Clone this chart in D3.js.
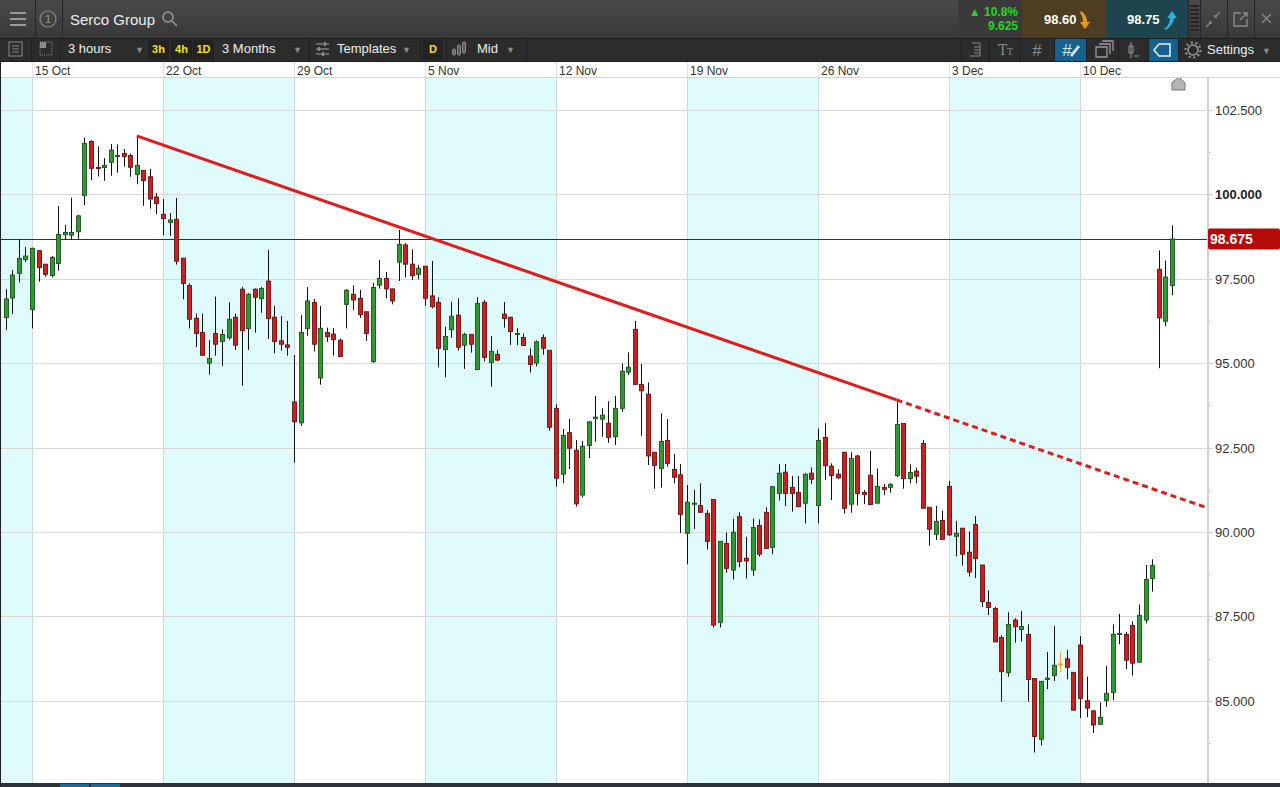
<!DOCTYPE html>
<html>
<head>
<meta charset="utf-8">
<script src="https://cdn.jsdelivr.net/npm/d3@7"></script>
<style>
  body { margin: 0; background: #fff; overflow: hidden; }
  svg { display: block; font-family: "Liberation Sans", Arial, sans-serif; }
</style>
</head>
<body>
<div id="chart"></div>
<script>
// Serco Group, velas de 3 horas (4 por dia), primera vela = viernes 12 Oct
let opens = [
  96.35, 96.93, 97.66, 98.07,
  96.59, 98.33, 97.93, 97.59, 97.95, 98.80, 98.79, 98.89, 99.97, 101.57,
  100.80, 100.79, 100.95, 101.12, 101.21, 101.15, 100.59, 100.71, 100.52, 99.92,
  99.41, 99.17, 99.26, 98.11, 97.30, 96.33, 95.91, 95.00, 95.88, 95.64,
  95.75, 96.36, 97.19, 96.02, 97.19, 96.91, 97.43, 96.36, 95.66, 95.54,
  93.85, 93.23, 96.02, 96.80, 94.56, 95.91, 95.86, 95.68, 96.74, 97.04,
  96.92, 96.52, 95.04, 97.31, 97.51, 97.20, 97.99, 98.50, 97.93, 97.63,
  97.87, 96.99, 96.80, 95.40, 95.99, 96.42, 95.53, 95.85, 94.81, 96.80,
  95.02, 95.26, 96.45, 96.36, 95.85, 95.76, 95.21, 95.00, 95.76, 95.38,
  93.66, 91.71, 92.94, 92.42, 91.09, 92.56, 93.36, 93.34, 93.22, 92.82,
  93.66, 94.73, 96.00, 94.37, 94.08, 92.36, 91.88, 92.71, 91.85, 91.69,
  89.96, 90.82, 90.78, 90.55, 90.96, 87.32, 89.66, 88.87, 90.45, 89.22,
  88.87, 90.19, 90.58, 89.54, 91.14, 91.77, 91.32, 91.17, 90.85, 91.74,
  90.78, 92.80, 91.95, 91.71, 92.36, 90.82, 92.25, 91.17, 91.68, 90.85,
  91.32, 91.32, 91.67, 93.21, 91.58, 91.80, 92.62, 90.73, 89.93, 90.34,
  91.35, 89.87, 90.11, 89.40, 90.22, 89.02, 87.91, 87.73, 86.87, 85.83,
  87.39, 87.11, 86.96, 85.66, 83.86, 85.63, 85.75, 86.09, 86.24, 85.84,
  86.65, 85.00, 84.70, 84.30, 85.00, 85.25, 86.96, 86.96, 87.23, 86.14,
  87.39, 88.62, 97.78, 96.24, 97.30
]
let highs = [
  97.19, 97.76, 98.67, 98.44,
  98.42, 98.33, 97.93, 98.17, 99.65, 99.09, 99.90, 99.40, 101.68, 101.60,
  101.42, 101.07, 101.49, 101.48, 101.34, 101.21, 101.73, 100.71, 100.75, 100.04,
  99.86, 99.44, 99.89, 98.11, 97.36, 96.47, 96.47, 95.68, 96.97, 96.00,
  96.80, 96.47, 97.26, 97.07, 97.21, 97.26, 98.35, 96.69, 96.39, 96.25,
  95.24, 96.42, 97.25, 96.90, 96.69, 96.05, 96.04, 95.73, 97.19, 97.30,
  97.17, 96.52, 97.38, 98.05, 97.70, 97.20, 98.94, 98.55, 98.37, 97.91,
  97.87, 98.02, 96.95, 96.08, 96.82, 96.92, 95.90, 95.85, 96.95, 96.87,
  95.80, 95.39, 96.81, 96.36, 96.03, 95.88, 95.44, 95.67, 95.85, 95.38,
  93.79, 93.05, 93.34, 92.72, 92.69, 93.27, 94.03, 93.66, 93.87, 94.03,
  94.99, 95.32, 96.25, 94.98, 94.43, 92.36, 93.51, 93.34, 92.31, 92.01,
  91.39, 91.24, 91.44, 90.65, 90.96, 89.72, 89.98, 90.38, 90.58, 89.86,
  90.40, 90.37, 90.73, 91.36, 92.01, 92.01, 91.66, 91.66, 91.74, 91.91,
  93.06, 93.22, 92.03, 91.85, 92.36, 92.36, 92.28, 91.24, 92.40, 91.88,
  91.42, 91.44, 93.91, 93.21, 92.00, 91.90, 92.72, 90.73, 90.77, 90.63,
  91.51, 90.33, 90.11, 90.01, 90.47, 89.02, 88.27, 87.78, 86.94, 87.62,
  87.44, 87.66, 87.26, 85.66, 85.59, 86.44, 87.21, 86.43, 86.50, 85.84,
  86.91, 85.71, 84.70, 84.95, 86.03, 87.26, 87.57, 87.04, 87.35, 87.85,
  89.02, 89.19, 98.34, 98.04, 99.08
]
let lows = [
  95.98, 96.45, 97.39, 97.99,
  96.03, 97.41, 97.56, 97.54, 97.74, 98.65, 98.65, 98.66, 99.68, 100.42,
  100.53, 100.40, 100.55, 100.64, 100.82, 100.52, 100.30, 99.66, 99.58, 99.41,
  98.79, 98.77, 97.92, 96.89, 96.03, 95.48, 95.23, 94.66, 95.22, 94.92,
  95.69, 95.39, 94.33, 95.39, 95.90, 96.49, 95.71, 95.29, 95.37, 95.22,
  92.05, 93.14, 95.81, 95.34, 94.36, 95.63, 95.22, 95.19, 96.03, 96.57,
  96.34, 95.66, 95.00, 97.21, 96.92, 96.74, 97.43, 97.54, 97.46, 97.48,
  96.70, 96.62, 94.87, 94.58, 95.75, 95.37, 94.83, 95.31, 94.81, 95.05,
  94.30, 95.05, 96.05, 95.54, 95.53, 95.52, 94.72, 94.90, 95.25, 93.00,
  91.34, 91.44, 91.86, 90.75, 91.02, 92.18, 92.67, 92.82, 92.64, 92.57,
  93.56, 94.65, 94.37, 92.85, 91.98, 91.28, 91.31, 91.93, 91.44, 89.96,
  89.04, 90.08, 90.58, 89.48, 87.17, 87.17, 88.79, 88.59, 88.95, 88.62,
  88.70, 89.27, 89.51, 89.34, 90.93, 90.77, 90.60, 90.73, 90.25, 91.42,
  90.25, 91.54, 90.94, 91.57, 90.54, 90.57, 90.78, 90.82, 90.79, 90.85,
  91.09, 91.16, 91.62, 91.28, 91.44, 91.44, 90.70, 89.59, 89.76, 89.78,
  89.88, 89.27, 89.00, 88.68, 88.63, 87.78, 87.54, 86.74, 84.97, 85.71,
  86.72, 86.75, 84.97, 83.47, 83.67, 85.34, 85.58, 85.84, 85.63, 84.70,
  84.48, 84.51, 84.04, 84.28, 84.82, 85.02, 86.67, 85.93, 85.74, 86.14,
  87.29, 88.23, 94.85, 96.09, 97.01
]
let closes = [
  96.90, 97.61, 98.10, 98.17,
  98.40, 97.83, 97.63, 98.13, 98.81, 98.87, 98.87, 99.36, 101.51, 100.77,
  100.76, 100.86, 101.31, 101.15, 101.12, 100.80, 100.86, 100.41, 99.86, 99.73,
  99.28, 99.24, 98.02, 97.36, 96.30, 95.88, 95.23, 95.14, 95.56, 95.85,
  96.30, 95.53, 95.96, 97.04, 96.95, 97.21, 96.32, 95.64, 95.56, 95.47,
  93.26, 95.91, 96.84, 95.56, 96.03, 95.78, 95.70, 95.19, 97.16, 96.87,
  96.44, 95.88, 97.24, 97.51, 97.20, 96.84, 98.52, 97.93, 97.59, 97.81,
  96.92, 96.67, 95.44, 95.79, 96.39, 95.47, 95.85, 95.56, 96.77, 95.17,
  95.35, 95.09, 96.32, 95.93, 95.88, 95.52, 94.96, 95.63, 95.44, 93.10,
  91.59, 92.86, 92.48, 90.83, 92.54, 93.26, 93.40, 93.46, 92.80, 93.66,
  94.76, 94.88, 94.37, 94.18, 92.25, 91.97, 92.68, 92.03, 91.62, 90.52,
  90.88, 90.85, 90.58, 89.72, 87.24, 89.72, 88.92, 89.99, 89.12, 89.14,
  90.13, 89.34, 89.51, 91.34, 91.74, 91.14, 91.14, 90.75, 91.71, 91.56,
  92.71, 91.96, 91.67, 91.60, 90.70, 92.18, 91.14, 91.11, 90.81, 91.35,
  91.26, 91.41, 93.18, 91.58, 91.76, 91.65, 90.70, 90.08, 90.31, 89.78,
  89.91, 89.96, 89.34, 88.81, 89.21, 87.94, 87.76, 86.74, 85.86, 87.26,
  87.19, 87.20, 85.63, 83.94, 85.57, 85.67, 86.05, 86.09, 85.99, 84.72,
  85.07, 84.78, 84.28, 84.51, 85.22, 86.96, 86.99, 86.20, 86.11, 87.53,
  88.59, 89.01, 96.34, 97.55, 98.675
]

// Semanas (la vela 4 es el primer bloque del 15 Oct, 20 velas por semana)
let weekLabels = ['15 Oct', '22 Oct', '29 Oct', '5 Nov', '12 Nov', '19 Nov', '26 Nov', '3 Dec', '10 Dec']
let candlesPerWeek = 20
let firstWeekCandle = 4
let yTicks = [85, 87.5, 90, 92.5, 95, 97.5, 100, 102.5]
let lastPrice = 98.675
// linea de tendencia: [vela, precio]
let trendFrom = [20, 101.73]
let trendTo = [136, 93.91]
let trendEnd = 183

// Dimensiones
let W = 1280, H = 787
let plotTop = 77, plotBottom = 783, plotRight = 1207

let svg = d3.select('#chart').append('svg')
    .attr('width', W)
    .attr('height', H)

let x = d3.scaleLinear()
    .domain([firstWeekCandle, firstWeekCandle + 8 * candlesPerWeek])
    .range([32, 1080])

let y = d3.scaleLinear()
    .domain([85, 100])
    .range([700.7, 194.3])

let candles = opens.map((o, i) => ({ i: i, o: o, h: highs[i], l: lows[i], c: closes[i] }))

// ---------- Barra superior ----------
let defs = svg.append('defs')
let grad = defs.append('linearGradient').attr('id', 'topbar').attr('x1', 0).attr('x2', 0).attr('y1', 0).attr('y2', 1)
grad.append('stop').attr('offset', '0%').attr('stop-color', '#4a4a4a')
grad.append('stop').attr('offset', '100%').attr('stop-color', '#383838')

svg.append('rect').attr('x', 0).attr('y', 0).attr('width', W).attr('height', 38).attr('fill', 'url(#topbar)')
svg.append('rect').attr('x', 0).attr('y', 38).attr('width', W).attr('height', 24).attr('fill', '#2c2c2c')
svg.append('line').attr('x1', 0).attr('x2', W).attr('y1', 38.5).attr('y2', 38.5).attr('stroke', '#1c1c1c')
svg.append('line').attr('x1', 0).attr('x2', W).attr('y1', 61.5).attr('y2', 61.5).attr('stroke', '#1c1c1c')

let topBar = svg.append('g')
// hamburguesa
;[13, 19, 25].forEach(yy => {
    topBar.append('rect').attr('x', 10).attr('y', yy - 1).attr('width', 16).attr('height', 2).attr('fill', '#9a9a9a')
})
;[35, 62].forEach(xx => {
    topBar.append('line').attr('x1', xx + 0.5).attr('x2', xx + 0.5).attr('y1', 0).attr('y2', 38).attr('stroke', '#262626')
})
topBar.append('circle').attr('cx', 48).attr('cy', 19).attr('r', 8).attr('fill', 'none').attr('stroke', '#8a8a8a').attr('stroke-width', 1.2)
topBar.append('text').text('1').attr('x', 48).attr('y', 23).attr('text-anchor', 'middle').attr('font-size', 11).attr('fill', '#9a9a9a')
topBar.append('text').text('Serco Group').attr('x', 70).attr('y', 25).attr('font-size', 15).attr('fill', '#eeeeee')
topBar.append('circle').attr('cx', 168).attr('cy', 17).attr('r', 5).attr('fill', 'none').attr('stroke', '#9a9a9a').attr('stroke-width', 1.5)
topBar.append('line').attr('x1', 172).attr('y1', 21).attr('x2', 177).attr('y2', 26).attr('stroke', '#9a9a9a').attr('stroke-width', 1.5)

// bloque de precios
topBar.append('rect').attr('x', 958).attr('y', 0).attr('width', 64).attr('height', 38).attr('fill', '#3a3a3a')
topBar.append('text').text('▲ 10.8%').attr('x', 1018).attr('y', 16).attr('text-anchor', 'end')
    .attr('font-size', 12).attr('font-weight', 'bold').attr('fill', '#2ad22a')
topBar.append('text').text('9.625').attr('x', 1018).attr('y', 30).attr('text-anchor', 'end')
    .attr('font-size', 12).attr('font-weight', 'bold').attr('fill', '#2ad22a')
topBar.append('rect').attr('x', 1022).attr('y', 0).attr('width', 84).attr('height', 38).attr('fill', '#4f3d21')
topBar.append('text').text('98.60').attr('x', 1044).attr('y', 24).attr('font-size', 13).attr('font-weight', 'bold').attr('fill', '#fff')
topBar.append('path').attr('d', 'M1081,11 Q1087,15 1087,22 L1090,22 L1085,29 L1080,22 L1083,22 Q1083,16 1080,13 Z').attr('fill', '#e39a1f')
topBar.append('rect').attr('x', 1106).attr('y', 0).attr('width', 82).attr('height', 38).attr('fill', '#1e454d')
topBar.append('text').text('98.75').attr('x', 1127).attr('y', 24).attr('font-size', 13).attr('font-weight', 'bold').attr('fill', '#fff')
topBar.append('path').attr('d', 'M1164,29 Q1170,25 1170,18 L1167,18 L1172,11 L1177,18 L1174,18 Q1174,24 1166,30 Z').attr('fill', '#29b2e0')
// grip
for (let k = 0; k < 7; k++) {
    topBar.append('rect').attr('x', 1190).attr('y', 5 + k * 4).attr('width', 9).attr('height', 2).attr('fill', '#262626')
}
;[1188, 1200, 1227, 1254].forEach(xx => {
    topBar.append('line').attr('x1', xx + 0.5).attr('x2', xx + 0.5).attr('y1', 0).attr('y2', 38).attr('stroke', '#262626')
})
topBar.append('path').attr('d', 'M1206,27 L1211,22 M1209,22 L1211,22 L1211,24 M1220,12 L1215,17 M1215,15 L1215,17 L1217,17')
    .attr('stroke', '#8a8a8a').attr('stroke-width', 1.4).attr('fill', 'none')
topBar.append('path').attr('d', 'M1241,13 L1234,13 L1234,26 L1247,26 L1247,19 M1240,20 L1247,13 M1243,13 L1247,13 L1247,17')
    .attr('stroke', '#8a8a8a').attr('stroke-width', 1.4).attr('fill', 'none')
topBar.append('path').attr('d', 'M1262,14 L1271,23 M1271,14 L1262,23').attr('stroke', '#8a8a8a').attr('stroke-width', 1.4)

// ---------- Segunda barra ----------
let bar = svg.append('g')
bar.append('rect').attr('x', 9).attr('y', 42).attr('width', 13).attr('height', 14).attr('fill', 'none').attr('stroke', '#8a8a8a')
;[46, 49, 52].forEach(yy => bar.append('line').attr('x1', 12).attr('x2', 19).attr('y1', yy).attr('y2', yy).attr('stroke', '#8a8a8a'))
bar.append('rect').attr('x', 40).attr('y', 42).attr('width', 12).attr('height', 13).attr('fill', 'none').attr('stroke', '#8a8a8a').attr('stroke-dasharray', '1,1')
bar.append('rect').attr('x', 40).attr('y', 42).attr('width', 6).attr('height', 6).attr('fill', '#8a8a8a')
;[31, 60, 309, 420, 446, 526].forEach(xx => {
    bar.append('line').attr('x1', xx + 0.5).attr('x2', xx + 0.5).attr('y1', 39).attr('y2', 61).attr('stroke', '#1e1e1e')
})
bar.append('text').text('3 hours').attr('x', 68).attr('y', 53).attr('font-size', 13).attr('fill', '#eee')
bar.append('text').text('▼').attr('x', 135).attr('y', 53).attr('font-size', 9).attr('fill', '#8a8a8a')
;[['3h', 148], ['4h', 171], ['1D', 193]].forEach(d => {
    bar.append('rect').attr('x', d[1]).attr('y', 40).attr('width', 21).attr('height', 20).attr('fill', '#222')
    bar.append('text').text(d[0]).attr('x', d[1] + 10.5).attr('y', 53).attr('text-anchor', 'middle')
        .attr('font-size', 11).attr('font-weight', 'bold').attr('fill', '#f3e21a')
})
bar.append('text').text('3 Months').attr('x', 222).attr('y', 53).attr('font-size', 13).attr('fill', '#eee')
bar.append('text').text('▼').attr('x', 293).attr('y', 53).attr('font-size', 9).attr('fill', '#8a8a8a')
;[44, 49, 54].forEach((yy, k) => {
    bar.append('line').attr('x1', 316).attr('x2', 329).attr('y1', yy).attr('y2', yy).attr('stroke', '#8a8a8a').attr('stroke-width', 1.3)
    bar.append('rect').attr('x', [324, 318, 322][k]).attr('y', yy - 2).attr('width', 2).attr('height', 4).attr('fill', '#8a8a8a')
})
bar.append('text').text('Templates').attr('x', 337).attr('y', 53).attr('font-size', 13).attr('fill', '#eee')
bar.append('text').text('▼').attr('x', 402).attr('y', 53).attr('font-size', 9).attr('fill', '#8a8a8a')
bar.append('rect').attr('x', 423).attr('y', 40).attr('width', 20).attr('height', 20).attr('fill', '#222')
bar.append('text').text('D').attr('x', 433).attr('y', 53).attr('text-anchor', 'middle').attr('font-size', 11).attr('font-weight', 'bold').attr('fill', '#f3e21a')
;[[454, 50, 54], [459, 46, 54], [464, 43, 52]].forEach(d => {
    bar.append('line').attr('x1', d[0]).attr('x2', d[0]).attr('y1', d[1] - 2).attr('y2', d[2] + 2).attr('stroke', '#8a8a8a')
    bar.append('rect').attr('x', d[0] - 1.5).attr('y', d[1]).attr('width', 3).attr('height', d[2] - d[1]).attr('fill', 'none').attr('stroke', '#8a8a8a')
})
bar.append('text').text('Mid').attr('x', 477).attr('y', 53).attr('font-size', 13).attr('fill', '#eee')
bar.append('text').text('▼').attr('x', 506).attr('y', 53).attr('font-size', 9).attr('fill', '#8a8a8a')

// iconos derecha
bar.append('rect').attr('x', 1055).attr('y', 39).attr('width', 31).attr('height', 22).attr('fill', '#13628f')
bar.append('rect').attr('x', 1148).attr('y', 39).attr('width', 30).attr('height', 22).attr('fill', '#13628f')
;[961, 989, 1020, 1054, 1086, 1118, 1148, 1178].forEach(xx => {
    bar.append('line').attr('x1', xx + 0.5).attr('x2', xx + 0.5).attr('y1', 39).attr('y2', 61).attr('stroke', '#1e1e1e')
})
bar.append('path').attr('d', 'M972,43 L980,43 L980,56 L970,56 M974,47 L980,47 M974,50 L980,50 M974,53 L980,53')
    .attr('stroke', '#8a8a8a').attr('fill', 'none')
bar.append('text').text('T').attr('x', 998).attr('y', 55).attr('font-size', 14).attr('fill', '#8a8a8a').attr('font-family', 'DejaVu Serif')
bar.append('text').text('T').attr('x', 1007).attr('y', 55).attr('font-size', 9).attr('fill', '#8a8a8a').attr('font-family', 'DejaVu Serif')
bar.append('text').text('#').attr('x', 1037).attr('y', 56).attr('text-anchor', 'middle').attr('font-size', 17).attr('fill', '#8a8a8a')
bar.append('text').text('#').attr('x', 1067).attr('y', 56).attr('text-anchor', 'middle').attr('font-size', 17).attr('fill', '#cfe6f2')
bar.append('path').attr('d', 'M1070,55 L1078,45 L1080,47 L1072,57 Z').attr('fill', '#cfe6f2')
bar.append('path').attr('d', 'M1096,47 L1107,47 L1107,57 L1096,57 Z M1099,44 L1110,44 L1110,54 M1102,41 L1113,41 L1113,51')
    .attr('stroke', '#9a9a9a').attr('fill', 'none').attr('stroke-width', 1.3)
bar.append('path').attr('d', 'M1131,42 L1131,58 M1129,46 L1133,46 L1133,53 L1129,53 Z M1134,56 L1139,56')
    .attr('stroke', '#9a9a9a').attr('fill', 'none')
bar.append('path').attr('d', 'M1170,44 L1159,44 L1154,50 L1159,56 L1170,56 Z').attr('stroke', '#e8f2f8').attr('stroke-width', 1.5).attr('fill', 'none')
bar.append('circle').attr('cx', 1193).attr('cy', 50).attr('r', 5).attr('fill', 'none').attr('stroke', '#9a9a9a').attr('stroke-width', 1.5)
bar.append('circle').attr('cx', 1193).attr('cy', 50).attr('r', 7.5).attr('fill', 'none').attr('stroke', '#9a9a9a').attr('stroke-width', 2).attr('stroke-dasharray', '2,2.7')
bar.append('text').text('Settings').attr('x', 1207).attr('y', 54).attr('font-size', 13).attr('fill', '#eee')
bar.append('text').text('▼').attr('x', 1262).attr('y', 54).attr('font-size', 9).attr('fill', '#8a8a8a')

// ---------- Area del grafico ----------
svg.append('rect').attr('x', 0).attr('y', 62).attr('width', W).attr('height', plotBottom - 62).attr('fill', '#fff')

let clip = defs.append('clipPath').attr('id', 'plotclip')
clip.append('rect').attr('x', 0).attr('y', plotTop).attr('width', plotRight).attr('height', plotBottom - plotTop)

let plot = svg.append('g').attr('clip-path', 'url(#plotclip)')

// bandas semanales sombreadas (semanas alternas)
let weeks = d3.range(-1, weekLabels.length)
plot.selectAll('rect.band')
    .data(weeks.filter(k => Math.abs(k) % 2 === 1))
    .join('rect')
    .attr('class', 'band')
    .attr('x', k => x(firstWeekCandle + k * candlesPerWeek))
    .attr('y', plotTop)
    .attr('width', x(candlesPerWeek) - x(0))
    .attr('height', plotBottom - plotTop)
    .attr('fill', '#e0fbfc')

plot.selectAll('line.vgrid')
    .data(weekLabels)
    .join('line')
    .attr('class', 'vgrid')
    .attr('x1', (d, k) => Math.round(x(firstWeekCandle + k * candlesPerWeek)) + 0.5)
    .attr('x2', (d, k) => Math.round(x(firstWeekCandle + k * candlesPerWeek)) + 0.5)
    .attr('y1', plotTop)
    .attr('y2', plotBottom)
    .attr('stroke', '#cfd9d9')

plot.selectAll('line.hgrid')
    .data(yTicks)
    .join('line')
    .attr('class', 'hgrid')
    .attr('x1', 0)
    .attr('x2', plotRight)
    .attr('y1', d => Math.round(y(d)) + 0.5)
    .attr('y2', d => Math.round(y(d)) + 0.5)
    .attr('stroke', '#d9d9d9')

// linea del ultimo precio
plot.append('line')
    .attr('x1', 0).attr('x2', plotRight)
    .attr('y1', Math.round(y(lastPrice)) + 0.5)
    .attr('y2', Math.round(y(lastPrice)) + 0.5)
    .attr('stroke', '#333')

// velas
let colorVela = d => d.c > d.o ? '#2f9a2f' : d.c < d.o ? '#cc1f1f' : '#e8a33a'
let bordeVela = d => d.c > d.o ? '#1c531c' : d.c < d.o ? '#6e1212' : '#e8a33a'

let velas = plot.selectAll('g.vela')
    .data(candles)
    .join('g')
    .attr('class', 'vela')

velas.append('line')
    .attr('x1', d => Math.round(x(d.i)) + 0.5)
    .attr('x2', d => Math.round(x(d.i)) + 0.5)
    .attr('y1', d => y(d.h))
    .attr('y2', d => y(d.l))
    .attr('stroke', d => d.c === d.o ? '#e8a33a' : '#111')
    .attr('stroke-width', 1)

velas.append('rect')
    .attr('x', d => Math.round(x(d.i)) - 1.5)
    .attr('y', d => y(Math.max(d.o, d.c)))
    .attr('width', 4)
    .attr('height', d => Math.max(1, Math.abs(y(d.o) - y(d.c))))
    .attr('fill', colorVela)
    .attr('stroke', bordeVela)
    .attr('stroke-width', 0.9)

// linea de tendencia
let pendiente = (trendTo[1] - trendFrom[1]) / (trendTo[0] - trendFrom[0])
let trendExt = [trendEnd, trendTo[1] + pendiente * (trendEnd - trendTo[0])]

plot.append('line')
    .attr('x1', x(trendFrom[0])).attr('y1', y(trendFrom[1]))
    .attr('x2', x(trendTo[0])).attr('y2', y(trendTo[1]))
    .attr('stroke', '#e41b1b').attr('stroke-width', 3)

plot.append('line')
    .attr('x1', x(trendTo[0])).attr('y1', y(trendTo[1]))
    .attr('x2', x(trendExt[0])).attr('y2', y(trendExt[1]))
    .attr('stroke', '#e41b1b').attr('stroke-width', 3)
    .attr('stroke-dasharray', '6,4')

// icono casa
plot.append('path')
    .attr('d', 'M1172,90 L1172,83 L1178.5,77 L1185,83 L1185,90 Z')
    .attr('fill', '#b4b4b4').attr('stroke', '#777')

// ---------- Fila de fechas ----------
svg.append('line').attr('x1', 0).attr('x2', W).attr('y1', plotTop + 0.5).attr('y2', plotTop + 0.5).attr('stroke', '#d4d4d4')
let fechas = svg.append('g')
fechas.selectAll('line')
    .data(weekLabels)
    .join('line')
    .attr('x1', (d, k) => Math.round(x(firstWeekCandle + k * candlesPerWeek)) + 0.5)
    .attr('x2', (d, k) => Math.round(x(firstWeekCandle + k * candlesPerWeek)) + 0.5)
    .attr('y1', 62).attr('y2', plotTop)
    .attr('stroke', '#e2e2e2')
fechas.selectAll('text')
    .data(weekLabels)
    .join('text')
    .text(d => d)
    .attr('x', (d, k) => x(firstWeekCandle + k * candlesPerWeek) + 3)
    .attr('y', 75)
    .attr('font-size', 12)
    .attr('fill', '#333')

// ---------- Eje Y ----------
let eje = svg.append('g')
eje.append('line')
    .attr('x1', plotRight + 1).attr('x2', plotRight + 1)
    .attr('y1', plotTop).attr('y2', plotBottom)
    .attr('stroke', '#d2d2d2').attr('stroke-width', 2)

let minorTicks = d3.range(yTicks[0] - 1.25, yTicks[yTicks.length - 1] + 1.3, 1.25)
eje.selectAll('line.tick')
    .data(minorTicks.filter(v => y(v) > plotTop && y(v) < plotBottom))
    .join('line')
    .attr('class', 'tick')
    .attr('x1', plotRight + 2)
    .attr('x2', (v) => yTicks.includes(v) ? plotRight + 6 : plotRight + 4)
    .attr('y1', v => Math.round(y(v)) + 0.5)
    .attr('y2', v => Math.round(y(v)) + 0.5)
    .attr('stroke', '#d2d2d2')

eje.selectAll('text')
    .data(yTicks)
    .join('text')
    .text(d => d3.format('.3f')(d))
    .attr('x', 1215)
    .attr('y', d => y(d) + 5)
    .attr('font-size', 13)
    .attr('font-weight', d => d === 100 ? 'bold' : 'normal')
    .attr('fill', d => d === 100 ? '#222' : '#333')

eje.append('rect')
    .attr('x', plotRight + 1).attr('y', y(lastPrice) - 10.5)
    .attr('width', W - plotRight - 1).attr('height', 21)
    .attr('rx', 2)
    .attr('fill', '#b50a0a')
eje.append('text')
    .text(d3.format('.3f')(lastPrice))
    .attr('x', 1210).attr('y', y(lastPrice) + 5)
    .attr('font-size', 14).attr('font-weight', 'bold').attr('fill', '#fff')

// ---------- Barra inferior ----------
svg.append('rect').attr('x', 0).attr('y', plotBottom).attr('width', W).attr('height', H - plotBottom).attr('fill', '#2c3237')
;[60, 91].forEach(xx => {
    svg.append('rect').attr('x', xx).attr('y', plotBottom + 1).attr('width', 29).attr('height', H - plotBottom - 1).attr('fill', '#1e6c8c')
})
svg.append('line').attr('x1', 0.5).attr('x2', 0.5).attr('y1', 62).attr('y2', H).attr('stroke', '#222')
</script>
</body>
</html>
